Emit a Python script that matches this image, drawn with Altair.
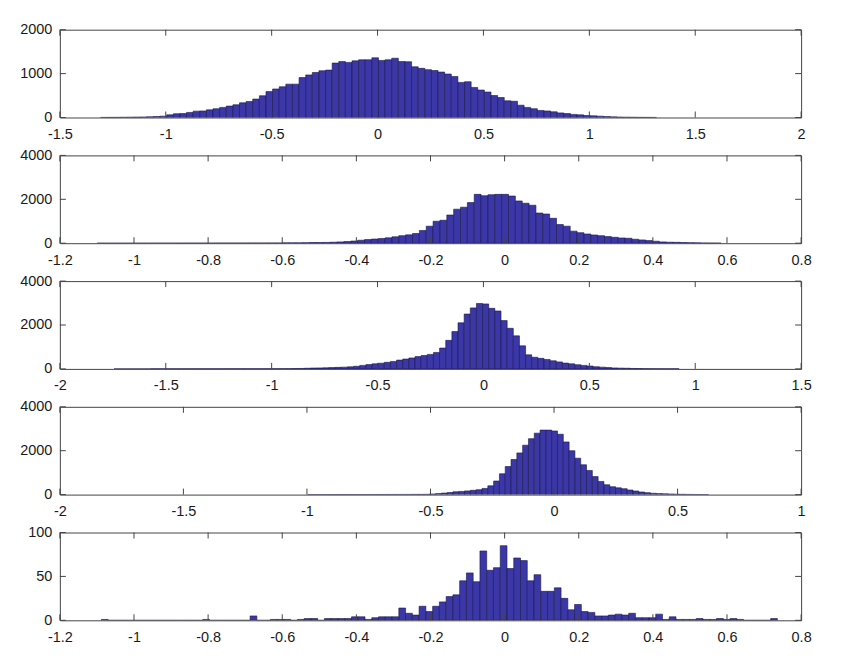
import altair as alt
import pandas as pd

# ---------------- data (histogram counts) ----------------
# Panel 1
p1_start = -1.308
p1_width = 0.03125
p1_counts = [2, 3, 4, 6, 8, 10, 13, 17, 22,
             30, 60, 85, 90, 115, 145, 150, 175, 200, 230, 260, 290, 335, 365, 420,
             495, 590, 650, 700, 760, 760, 910, 970, 1025, 1065, 1080, 1240, 1275,
             1255, 1290, 1315, 1315, 1360, 1300, 1315, 1350, 1275, 1270, 1155, 1120,
             1090, 1070, 1035, 990, 935, 800, 815, 685, 625, 580, 500, 455, 380, 370,
             280, 230, 200, 160, 150, 130, 105, 90, 70, 60, 45, 38, 30, 22, 15, 10,
             8, 6, 4, 3, 2]
p1_xticks = [-1.5, -1, -0.5, 0, 0.5, 1, 1.5, 2]
p1_yticks = [0, 1000, 2000]

# Panel 2
p2_start = -1.0995
p2_width = 0.0185
p2_counts = [1, 0, 1, 1, 1, 2, 2, 2, 3, 3, 3, 4, 4, 5, 5, 6, 6, 7, 7, 8, 8, 9, 10,
             10, 11, 12, 13,
             15, 15, 15, 25, 30, 30, 35, 45, 60, 75, 100, 135, 165, 190, 215, 245,
             290, 345, 380, 440,
             580, 775, 1000, 1045, 1285, 1550, 1640, 1850, 2225, 2165, 2210, 2225,
             2225, 2150, 1925, 1820, 1730, 1375, 1330, 1135, 850, 775, 550, 480, 420,
             375, 345, 300, 270, 240, 225, 180, 150, 120, 90, 60, 45, 40, 30, 25, 15,
             12, 8, 5]
p2_xticks = [-1.2, -1, -0.8, -0.6, -0.4, -0.2, 0, 0.2, 0.4, 0.6, 0.8]
p2_yticks = [0, 2000, 4000]

# Panel 3
p3_start = -1.744
p3_width = 0.029
p3_counts = [1, 1, 1, 1, 1, 1, 2, 2, 2, 2, 2, 3, 3, 3, 3, 4, 4, 4, 5, 5, 5, 6, 6,
             6, 7, 7,
             8, 10, 12, 15, 20, 30, 40, 45, 50, 60, 70, 80, 95, 120, 160, 195, 230,
             260, 300, 340, 400, 450, 500, 560, 610,
             660, 750, 950, 1300, 1700, 2100, 2500, 2780, 2980, 2960, 2760, 2640,
             2200, 1850, 1505, 1050, 640, 530, 480, 430, 370, 320, 265, 230, 190,
             160, 130, 100, 80, 60, 45, 35, 30, 20, 15, 12, 8, 5, 4, 3, 2]
p3_xticks = [-2, -1.5, -1, -0.5, 0, 0.5, 1, 1.5]
p3_yticks = [0, 2000, 4000]

# Panel 4
p4_start = -0.9965
p4_width = 0.0235
p4_counts = [2, 2, 3, 3, 3, 4, 4, 5, 5, 5, 6, 6, 7, 7, 8, 8, 9, 10, 11,
             12, 15, 30, 45, 70, 95, 130, 145, 170, 195, 225, 280, 400, 620, 950,
             1280, 1600, 1900, 2250, 2550, 2800, 2940, 2940, 2900, 2750, 2400, 2000,
             1660, 1360, 1100, 820, 600, 450, 360, 310, 270, 210, 165, 120, 90, 60,
             45, 38, 30, 20, 15, 10, 7, 5, 3]
p4_xticks = [-2, -1.5, -1, -0.5, 0, 0.5, 1]
p4_yticks = [0, 2000, 4000]

# Panel 5
p5_start = -1.088
p5_width = 0.01824
p5_counts = [1, 0, 0, 0, 0, 0, 0, 0, 0, 0, 0, 0, 0, 0, 0, 1, 0, 0, 0, 0, 0, 0, 5,
             0, 0, 1, 1, 1, 0, 1, 2, 2, 0, 2, 2, 2, 2, 4, 4, 1, 3, 4, 4, 4, 14, 8, 6,
             16, 10, 16, 21, 27, 29, 45, 54, 44, 79, 57, 60, 85, 59, 71, 68, 45, 52,
             33, 33, 37, 25, 12, 18, 10, 9, 5, 5, 6, 7, 6, 8, 3, 3, 3, 7, 1, 4, 1, 1,
             1, 2, 1, 1, 2, 1, 2, 1, 0, 0, 0, 0, 2]
p5_xticks = [-1.2, -1, -0.8, -0.6, -0.4, -0.2, 0, 0.2, 0.4, 0.6, 0.8]
p5_yticks = [0, 50, 100]

# ---------------- styling ----------------
W = 743
H = 88
TICK = 6
FILL = "#3b37a6"
EDGE = "#1a1848"
FONT = "Liberation Sans"

panels = [
    (p1_start, p1_width, p1_counts, p1_xticks, p1_yticks),
    (p2_start, p2_width, p2_counts, p2_xticks, p2_yticks),
    (p3_start, p3_width, p3_counts, p3_xticks, p3_yticks),
    (p4_start, p4_width, p4_counts, p4_xticks, p4_yticks),
    (p5_start, p5_width, p5_counts, p5_xticks, p5_yticks),
]


def make_panel(start, width, counts, xticks, yticks):
    left = [start + i * width for i in range(len(counts))]
    df = pd.DataFrame({"x0": left, "x1": [v + width for v in left], "n": counts})
    xdom = [xticks[0], xticks[-1]]
    ydom = [yticks[0], yticks[-1]]
    xs = alt.Scale(domain=xdom, nice=False, zero=False)
    ys = alt.Scale(domain=ydom, nice=False, zero=True)
    xaxis = alt.Axis(values=xticks, labelExpr="datum.value + ''", ticks=False,
                     domain=False, grid=False, title=None, labelFlush=False,
                     labelOverlap=False, labelPadding=10)
    yaxis = alt.Axis(values=yticks, labelExpr="datum.value + ''", ticks=False,
                     domain=False, grid=False, title=None, labelPadding=8,
                     labelOverlap=False)

    bars = alt.Chart(df).mark_bar(
        color=FILL, stroke=EDGE, strokeWidth=0.6, clip=True
    ).encode(
        x=alt.X("x0:Q", scale=xs, axis=xaxis),
        x2="x1:Q",
        y=alt.Y("n:Q", scale=ys, axis=yaxis),
        y2=alt.datum(0),
    )

    xt = pd.DataFrame({"v": xticks})
    yt = pd.DataFrame({"v": yticks})
    tick_col = "#444444"
    xb = alt.Chart(xt).mark_rule(color=tick_col, strokeWidth=1).encode(
        x=alt.X("v:Q", scale=xs, axis=xaxis), y=alt.value(H), y2=alt.value(H - TICK))
    xtop = alt.Chart(xt).mark_rule(color=tick_col, strokeWidth=1).encode(
        x=alt.X("v:Q", scale=xs, axis=xaxis), y=alt.value(0), y2=alt.value(TICK))
    yl = alt.Chart(yt).mark_rule(color=tick_col, strokeWidth=1).encode(
        y=alt.Y("v:Q", scale=ys, axis=yaxis), x=alt.value(0), x2=alt.value(TICK))
    yr = alt.Chart(yt).mark_rule(color=tick_col, strokeWidth=1).encode(
        y=alt.Y("v:Q", scale=ys, axis=yaxis), x=alt.value(W - TICK), x2=alt.value(W))

    return alt.layer(bars, xb, xtop, yl, yr).properties(width=W, height=H)


charts = [make_panel(*p) for p in panels]

chart = alt.vconcat(*charts, spacing=38, bounds="flush").properties(
    padding={"left": 19, "top": 20, "right": 40, "bottom": 10}
).configure_view(
    stroke="#444444", strokeWidth=1
).configure_axis(
    labelFont=FONT, labelFontSize=14.5, labelColor="#1a1a1a"
)

chart.save("out.html", embed_options={"renderer": "svg", "actions": False})
